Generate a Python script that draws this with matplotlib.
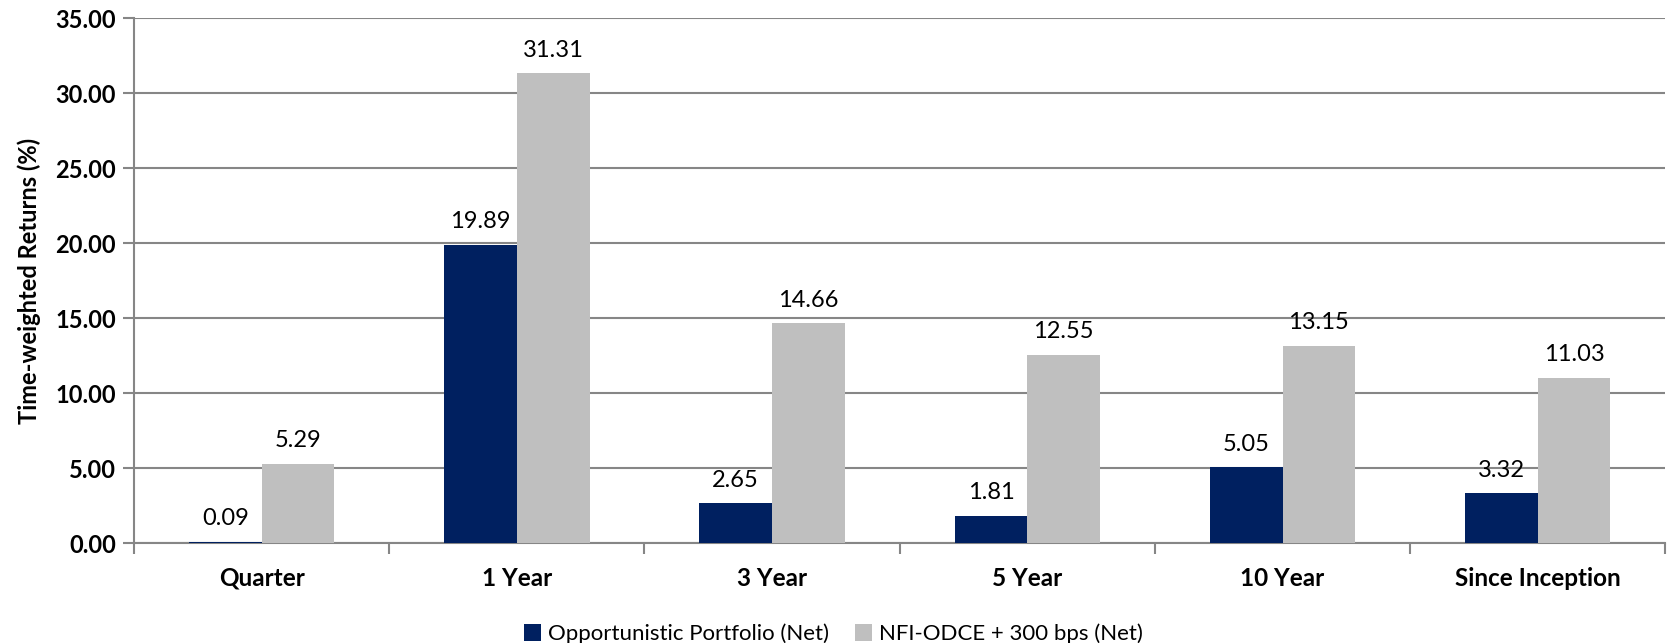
import numpy as np
import matplotlib
matplotlib.use("Agg")
import matplotlib.pyplot as plt
from matplotlib.ticker import FormatStrFormatter, FixedLocator

plt.rcParams['font.family'] = ['Lato', 'DejaVu Sans']

categories = ["Quarter", "1 Year", "3 Year", "5 Year", "10 Year", "Since Inception"]
portfolio = [0.09, 19.89, 2.65, 1.81, 5.05, 3.32]
benchmark = [5.29, 31.31, 14.66, 12.55, 13.15, 11.03]
series_names = ["Opportunistic Portfolio (Net)", "NFI-ODCE + 300 bps (Net)"]
colors = ["#002060", "#BFBFBF"]

fig = plt.figure(figsize=(16.67, 6.43), dpi=100)
ax = fig.add_axes([0.0804, 0.1555, 0.9186, 0.8165])

x = np.arange(len(categories))
w = 0.285
b1 = ax.bar(x - w / 2, portfolio, w, color=colors[0], label=series_names[0], zorder=3)
b2 = ax.bar(x + w / 2, benchmark, w, color=colors[1], label=series_names[1], zorder=3)

for bars, vals in ((b1, portfolio), (b2, benchmark)):
    for r, v in zip(bars, vals):
        ax.annotate(f"{v:.2f}", (r.get_x() + r.get_width() / 2, v),
                    xytext=(0, 9), textcoords="offset points",
                    ha="center", va="bottom", fontsize=17)

ax.set_xlim(-0.5, len(categories) - 0.5)
ax.set_ylim(0, 35)
ax.set_yticks(np.arange(0, 35.1, 5))
ax.yaxis.set_major_formatter(FormatStrFormatter("%.2f"))
ax.yaxis.grid(True, color="#868686", linewidth=1.5, zorder=0)

ax.set_xticks(x)
ax.set_xticklabels(categories, fontsize=17.5, fontweight="bold")
ax.xaxis.set_minor_locator(FixedLocator(np.arange(-0.5, len(categories), 1)))
ax.tick_params(axis="x", which="major", length=0, pad=17)
ax.tick_params(axis="x", which="minor", length=8, width=1.5, color="#868686")
ax.tick_params(axis="y", length=8, width=1.5, color="#868686", labelsize=17, pad=5)
for lab in ax.get_yticklabels():
    lab.set_fontweight("bold")

ax.set_ylabel("Time-weighted Returns (%)", fontsize=17, fontweight="bold", labelpad=10)

for s in ("top", "right"):
    ax.spines[s].set_visible(False)
for s in ("left", "bottom"):
    ax.spines[s].set_color("#868686")
    ax.spines[s].set_linewidth(1.5)

fig.legend(loc="lower center", bbox_to_anchor=(0.5, -0.033), ncol=2, frameon=False,
           fontsize=16, handlelength=0.75, handleheight=0.75, handletextpad=0.3,
           columnspacing=1.2)

fig.savefig("out.png", dpi=100)
